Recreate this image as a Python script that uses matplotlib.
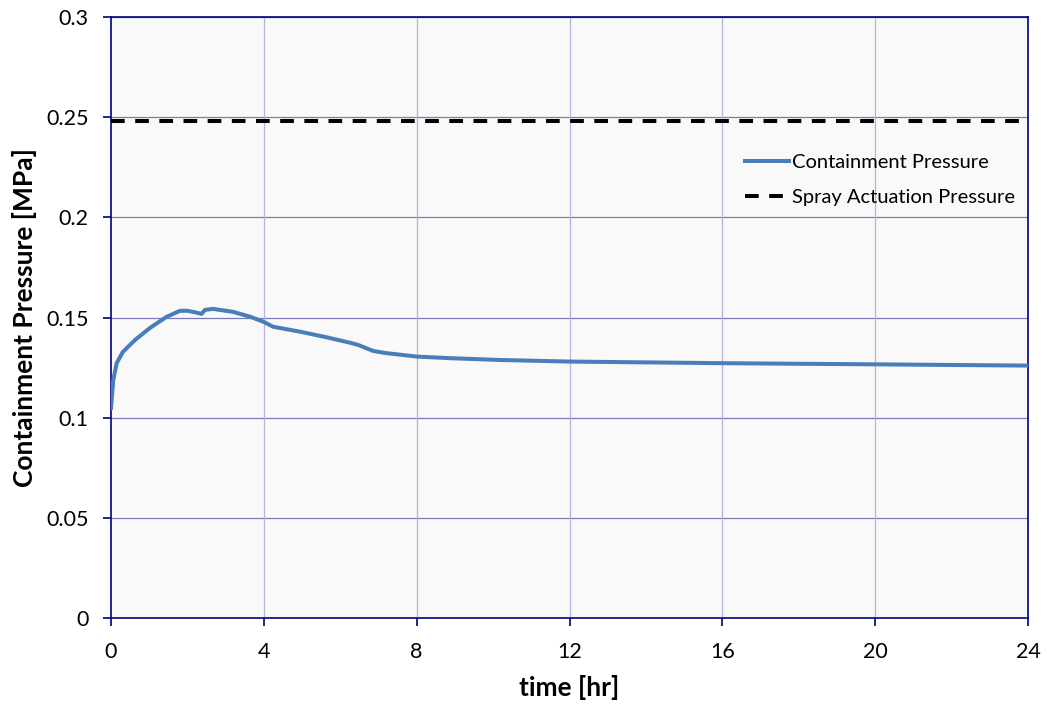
import matplotlib
matplotlib.use("Agg")
import matplotlib.pyplot as plt

time_hr = [0.0, 0.03, 0.06, 0.15, 0.31, 0.63, 1.02, 1.45, 1.8, 1.98, 2.2, 2.37, 2.46, 2.67,
           3.2, 3.64, 4.0, 4.24, 4.95, 5.6, 6.26, 6.47, 6.86, 7.21, 8.0, 8.87, 10.18, 12.0,
           14.0, 16.0, 18.0, 19.5, 22.0, 24.0]
pressure = [0.1048, 0.112, 0.1188, 0.1273, 0.1328, 0.1388, 0.1448, 0.1503, 0.1533, 0.1534,
            0.1526, 0.1518, 0.1538, 0.1543, 0.1528, 0.1504, 0.1478, 0.1454, 0.1429, 0.1403,
            0.1374, 0.1363, 0.1333, 0.1322, 0.1305, 0.1297, 0.1288, 0.1280, 0.1276, 0.1272,
            0.1269, 0.1267, 0.1263, 0.1260]
spray_pressure = 0.248

xticks = [0, 4, 8, 12, 16, 20, 24]
yticks = [0, 0.05, 0.1, 0.15, 0.2, 0.25, 0.3]
ytick_labels = ["0", "0.05", "0.1", "0.15", "0.2", "0.25", "0.3"]

plt.rcParams['font.family'] = ['Lato', 'DejaVu Sans']

fig = plt.figure(figsize=(10.47, 7.08), dpi=100)
ax = fig.add_axes([111/1047, 90/708, 917/1047, 601/708])
ax.set_facecolor('#f9f9f9')

ax.plot(time_hr, pressure, color='#4a7ebb', lw=2.9, label='Containment Pressure', zorder=3)
ax.axhline(spray_pressure, color='black', lw=2.9, ls=(0, (3.4, 2.6)),
           label='Spray Actuation Pressure', zorder=3)

ax.set_xlim(0, 24)
ax.set_ylim(0, 0.3)
ax.set_xticks(xticks)
ax.set_yticks(yticks)
ax.set_yticklabels(ytick_labels)
ax.tick_params(axis='both', labelsize=15.5, direction='out', length=6, color='#000080', width=1.2)
ax.tick_params(axis='y', pad=10)
ax.tick_params(axis='x', pad=11)

for y in yticks[1:]:
    ax.axhline(y, color='#7a7ab8', lw=0.9, zorder=1)
for x in xticks[1:]:
    ax.axvline(x, color='#b4b4dc', lw=0.9, zorder=1)

for s in ax.spines.values():
    s.set_color('#000080')
    s.set_linewidth(1.2)

ax.set_xlabel('time [hr]', fontsize=19, fontweight='bold', labelpad=10)
ax.set_ylabel('Containment Pressure [MPa]', fontsize=19, fontweight='bold', labelpad=7)

leg = ax.legend(loc='upper left', bbox_to_anchor=(0.672, 0.802), frameon=False, fontsize=14.5,
                handlelength=2.15, handletextpad=0.15, labelspacing=0.87, borderpad=0.4)

fig.savefig('out.png', dpi=100)
